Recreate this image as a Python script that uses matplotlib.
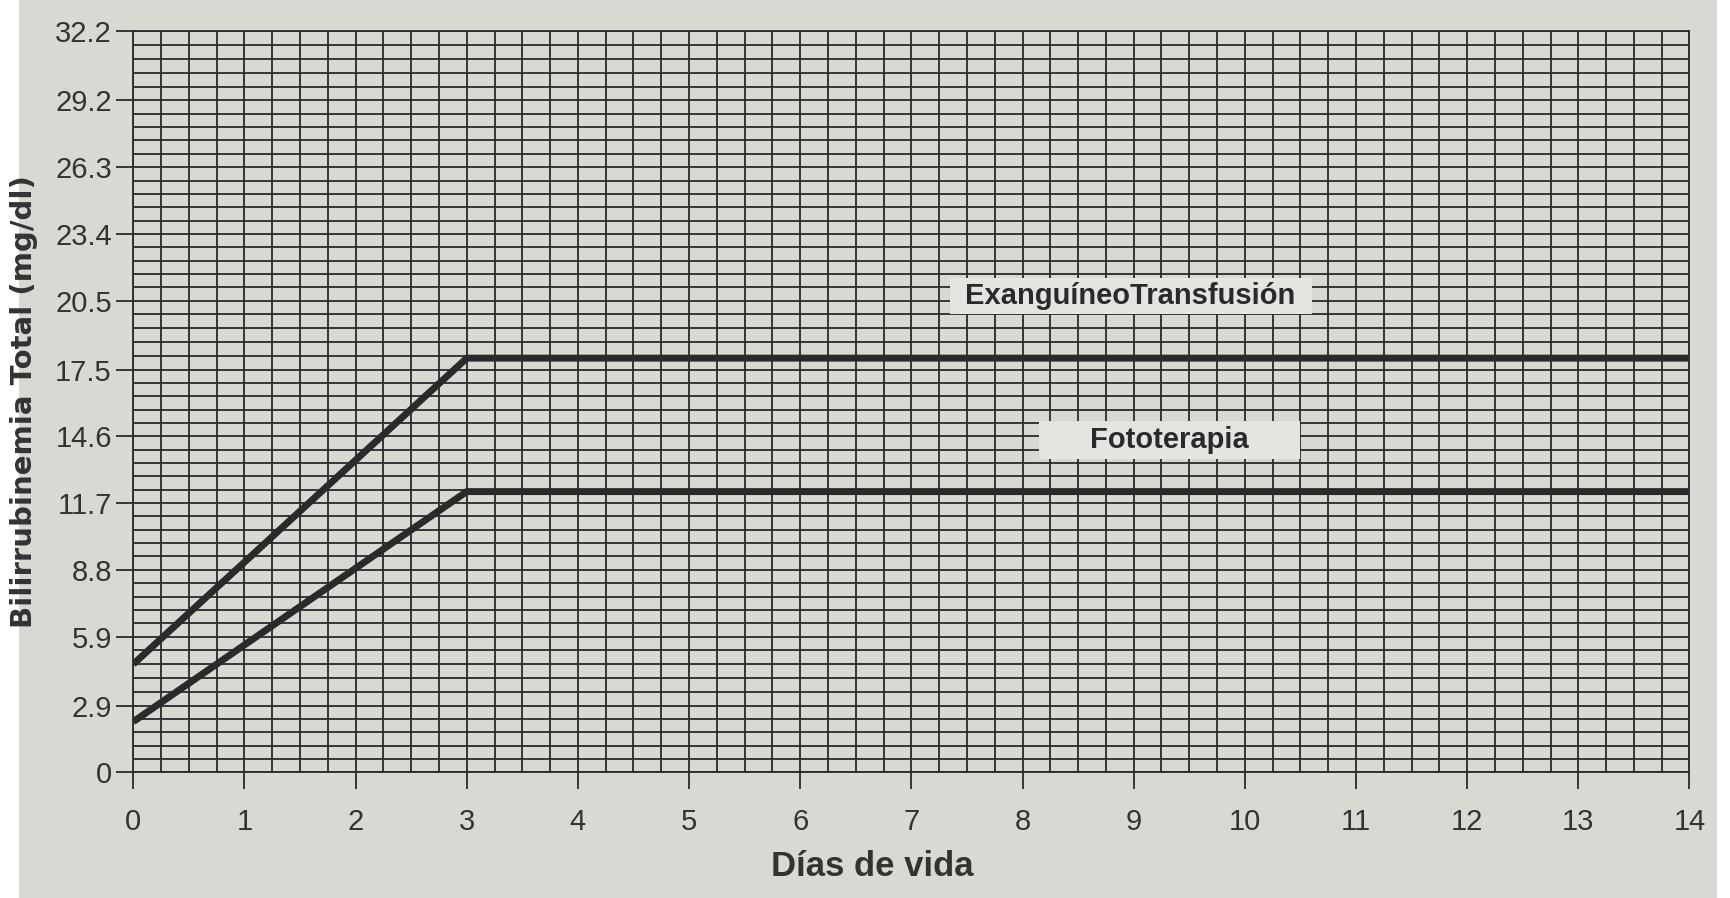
import numpy as np
import matplotlib.pyplot as plt
from matplotlib.patches import Rectangle

# datos
dias = list(range(15))
y_ticks = [0, 2.9, 5.9, 8.8, 11.7, 14.6, 17.5, 20.5, 23.4, 26.3, 29.2, 32.2]

exang_x = [0, 3, 14]
exang_y = [4.7, 18.0, 18.0]
foto_x = [0, 3, 14]
foto_y = [2.2, 12.2, 12.2]

paper = '#dad8d3'
ink = '#2a2a2a'
box_color = '#e6e4e0'

fig = plt.figure(figsize=(17.31, 8.98), dpi=100, facecolor='white')
fig.patches.append(Rectangle((0.011, 0.0), 0.981, 1.0, transform=fig.transFigure,
                             facecolor=paper, edgecolor='none', zorder=-10))
ax = fig.add_axes([0.077, 0.14, 0.899, 0.825])
ax.set_facecolor(paper)

# cuadricula: 4 divisiones por dia, 5 por intervalo de bilirrubina
y_minor = []
for a, b in zip(y_ticks[:-1], y_ticks[1:]):
    y_minor.extend(np.linspace(a, b, 6)[1:-1])

ax.set_xlim(0, 14)
ax.set_ylim(0, 32.2)
ax.set_xticks(dias)
ax.set_xticks(np.arange(0, 14.01, 0.25), minor=True)
ax.set_yticks(y_ticks)
ax.set_yticks(y_minor, minor=True)
ax.set_yticklabels([f"{v:g}" for v in y_ticks])
ax.grid(which='both', color=ink, linewidth=1.3)
ax.set_axisbelow(True)
for s in ax.spines.values():
    s.set_color(ink)
    s.set_linewidth(1.3)

ax.tick_params(which='major', length=12, width=1.3, color=ink, direction='out',
               labelsize=21, labelcolor='#333333')
ax.tick_params(axis='x', which='major', pad=14)
ax.tick_params(which='minor', length=0)
for lab in ax.get_xticklabels() + ax.get_yticklabels():
    lab.set_family('Liberation Sans')

ax.plot(exang_x, exang_y, color=ink, linewidth=5, solid_capstyle='butt', zorder=3)
ax.plot(foto_x, foto_y, color=ink, linewidth=5, solid_capstyle='butt', zorder=3)

# recuadros claros detras de los rotulos
ax.add_patch(Rectangle((7.35, 19.9), 3.25, 1.6, facecolor=box_color,
                       edgecolor='none', zorder=4))
ax.add_patch(Rectangle((8.15, 13.6), 2.35, 1.65, facecolor=box_color,
                       edgecolor='none', zorder=4))
ax.text(8.97, 20.7, "ExanguíneoTransfusión", ha='center', va='center', fontsize=21,
        fontweight='bold', color='#2a2a2a', family='Liberation Sans', zorder=5)
ax.text(9.32, 14.45, "Fototerapia", ha='center', va='center', fontsize=21,
        fontweight='bold', color='#2a2a2a', family='Liberation Sans', zorder=5)

ax.set_xlabel("Días de vida", fontsize=25, fontweight='bold', color='#333333',
              family='Liberation Sans', labelpad=12)
ax.xaxis.set_label_coords(0.475, -0.105)
ax.set_ylabel("Bilirrubinemia Total (mg/dl)", fontsize=21, fontweight='bold',
              color='#333333', labelpad=12)

fig.savefig('out.png', dpi=100, facecolor=fig.get_facecolor())
